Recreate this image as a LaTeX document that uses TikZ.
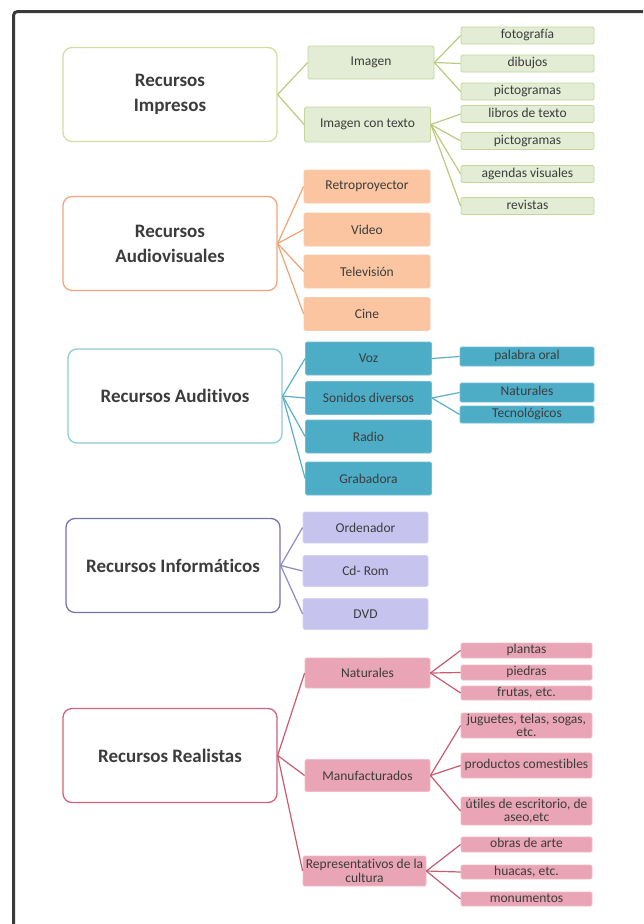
\documentclass[tikz,border=0pt]{standalone}
\usepackage{fontspec}
\setmainfont{Carlito}[Ligatures=NoCommon]
\definecolor{marco}{HTML}{3A3A3A}
\definecolor{texto}{HTML}{3C3C3C}
\definecolor{verdeA}{HTML}{D5DDA0}
\definecolor{verdeB}{HTML}{C3D69B}
\definecolor{verdeC}{HTML}{E3EDD5}
\definecolor{verdeL}{HTML}{BACB7C}
\definecolor{naranjaA}{HTML}{F2A57F}
\definecolor{naranjaB}{HTML}{F9CCAA}
\definecolor{naranjaC}{HTML}{FAC5A0}
\definecolor{naranjaL}{HTML}{F0A377}
\definecolor{azulA}{HTML}{8DCADC}
\definecolor{azulB}{HTML}{6FBDD3}
\definecolor{azulC}{HTML}{4DADC7}
\definecolor{azulL}{HTML}{5BAFC9}
\definecolor{moradoA}{HTML}{7773AE}
\definecolor{moradoB}{HTML}{D5D2F4}
\definecolor{moradoC}{HTML}{C7C3EF}
\definecolor{moradoL}{HTML}{8E89C5}
\definecolor{rosaA}{HTML}{D2627A}
\definecolor{rosaB}{HTML}{EEBBC6}
\definecolor{rosaC}{HTML}{E9A5B5}
\definecolor{rosaL}{HTML}{C85A72}

\begin{document}
\begin{tikzpicture}[x=1pt,y=-1pt,
  main/.style={draw, fill=white, rounded corners=9pt, line width=1.3pt, minimum width=214pt, minimum height=94pt, align=center, text=texto, font=\bfseries\fontsize{19}{25}\selectfont},
  sub/.style={draw, rounded corners=1.5pt, line width=0.8pt, minimum width=126pt, minimum height=33pt, inner sep=1pt, align=center, text=texto, font=\fontsize{13.5}{14.5}\selectfont},
  leaf/.style={sub, minimum width=133pt, minimum height=17pt, inner sep=0.5pt, text height=9.5pt, text depth=3pt},
  leaf2/.style={sub, minimum width=133pt, inner sep=0.5pt, font=\fontsize{13.5}{12.5}\selectfont},
  verde/.style={draw=verdeB, fill=verdeC},
  naranja/.style={draw=naranjaB, fill=naranjaC},
  azul/.style={draw=azulB, fill=azulC},
  morado/.style={draw=moradoB, fill=moradoC},
  rosa/.style={draw=rosaB, fill=rosaC},
  rama/.style={line width=1.2pt}]
\useasboundingbox (0,0) rectangle (643,924);
\draw[line width=3pt, draw=marco, rounded corners=4pt] (13.5,924) |- (643,11.5);

% impresos
\node[main, draw=verdeA] (impresos) at (170,94.5) {Recursos\\Impresos};
\node[sub, verde] (imagen) at (371,62.5) {Imagen};
\node[sub, verde, minimum height=35pt] (imgtexto) at (367.5,124.5) {Imagen con texto};
\node[leaf, verde] (fotografia) at (527.5,35.5) {fotografía};
\node[leaf, verde] (dibujos) at (527.5,63.5) {dibujos};
\node[leaf, verde] (picto) at (527.5,91.5) {pictogramas};
\node[leaf, verde] (libros) at (527.5,114) {libros de texto};
\node[leaf, verde] (pictob) at (527.5,141) {pictogramas};
\node[leaf, verde] (agendas) at (527.5,174) {agendas visuales};
\node[leaf, verde] (revistas) at (527.5,206) {revistas};
\draw[rama, verdeL] (impresos.east) -- (imagen.west);
\draw[rama, verdeL] (impresos.east) -- (imgtexto.west);
\foreach \n in {fotografia,dibujos,picto}
  \draw[rama, verdeL] (imagen.east) -- (\n.west);
\foreach \n in {libros,pictob,agendas,revistas}
  \draw[rama, verdeL] (imgtexto.east) -- (\n.west);

% audiovisuales
\node[main, draw=naranjaA] (audiovis) at (170,243.5) {Recursos\\Audiovisuales};
\node[sub, naranja] (retro) at (367,186.5) {Retroproyector};
\node[sub, naranja] (video) at (367,229.5) {Video};
\node[sub, naranja] (tele) at (367,271.5) {Televisión};
\node[sub, naranja] (cine) at (367,314) {Cine};
\foreach \n in {retro,video,tele,cine}
  \draw[rama, naranjaL] (audiovis.east) -- (\n.west);

% auditivos
\node[main, draw=azulA] (auditivos) at (175,396) {Recursos Auditivos};
\node[sub, azul] (voz) at (368.5,358.5) {Voz};
\node[sub, azul] (sonidos) at (368.5,398) {Sonidos diversos};
\node[sub, azul] (radio) at (368.5,436.5) {Radio};
\node[sub, azul] (grabadora) at (368.5,478.5) {Grabadora};
\node[leaf, azul, minimum width=134pt, minimum height=19pt] (palabra) at (527,356.5) {palabra oral};
\node[leaf, azul, minimum width=134pt, minimum height=19pt] (natsonido) at (527,392.5) {Naturales};
\node[leaf, azul, minimum width=134pt] (tecno) at (527,414.5) {Tecnológicos};
\foreach \n in {voz,sonidos,radio,grabadora}
  \draw[rama, azulL] (auditivos.east) -- (\n.west);
\draw[rama, azulL] (voz.east) -- (palabra.west);
\draw[rama, azulL] (sonidos.east) -- (natsonido.west);
\draw[rama, azulL] (sonidos.east) -- (tecno.west);

% informaticos
\node[main, draw=moradoA] (informaticos) at (173,565.5) {Recursos Informáticos};
\node[sub, morado, minimum width=125pt, minimum height=31pt] (ordenador) at (365.5,527.5) {Ordenador};
\node[sub, morado, minimum width=125pt, minimum height=31pt] (cdrom) at (365.5,571) {Cd- Rom};
\node[sub, morado, minimum width=125pt, minimum height=31pt] (dvd) at (365.5,614) {DVD};
\foreach \n in {ordenador,cdrom,dvd}
  \draw[rama, moradoL] (informaticos.east) -- (\n.west);

% realistas
\node[main, draw=rosaA] (realistas) at (170,755.5) {Recursos Realistas};
\node[sub, rosa, minimum width=125pt, minimum height=30pt] (naturales) at (367.5,673) {Naturales};
\node[sub, rosa, minimum width=125pt, minimum height=32pt] (manufact) at (367.5,775.5) {Manufacturados};
\node[sub, rosa, minimum width=123pt, minimum height=30pt, inner xsep=0pt] (repres) at (364.5,871) {Representativos de la\\cultura};
\node[leaf, rosa, minimum width=131pt, minimum height=15pt] (plantas) at (526.5,650.5) {plantas};
\node[leaf, rosa, minimum width=131pt, minimum height=15pt] (piedras) at (526.5,672.5) {piedras};
\node[leaf, rosa, minimum width=131pt, minimum height=14pt] (frutas) at (526.5,693) {frutas, etc.};
\node[leaf2, rosa, minimum width=131pt, minimum height=25pt] (juguetes) at (526.5,725.5) {juguetes, telas, sogas,\\etc.};
\node[leaf, rosa, minimum width=131pt, minimum height=25pt] (productos) at (526.5,765.5) {productos comestibles};
\node[leaf2, rosa, minimum width=131pt, minimum height=28pt] (utiles) at (526.5,811) {útiles de escritorio, de\\aseo,etc};
\node[leaf, rosa, minimum width=131pt, minimum height=15pt] (obras) at (526.5,844.5) {obras de arte};
\node[leaf, rosa, minimum width=131pt, minimum height=14pt] (huacas) at (526.5,872) {huacas, etc.};
\node[leaf, rosa, minimum width=131pt, minimum height=14pt] (monumentos) at (526.5,899) {monumentos};
\foreach \n in {naturales,manufact,repres}
  \draw[rama, rosaL] (realistas.east) -- (\n.west);
\foreach \n in {plantas,piedras,frutas}
  \draw[rama, rosaL] (naturales.east) -- (\n.west);
\foreach \n in {juguetes,productos,utiles}
  \draw[rama, rosaL] (manufact.east) -- (\n.west);
\foreach \n in {obras,huacas,monumentos}
  \draw[rama, rosaL] (repres.east) -- (\n.west);
\end{tikzpicture}
\end{document}
